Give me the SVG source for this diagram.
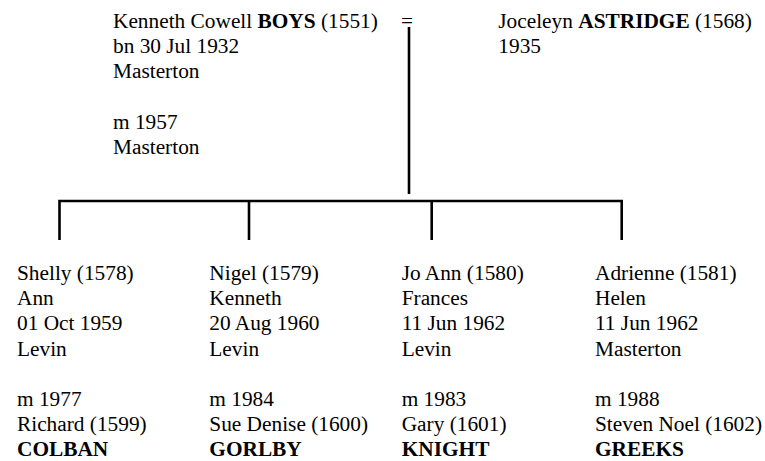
<svg xmlns="http://www.w3.org/2000/svg" width="765" height="461" viewBox="0 0 765 461">
<style>
text{font-family:"Liberation Serif","Times New Roman",serif;font-size:21.33px;fill:#000}
.b{font-weight:bold}
.ln{stroke:#000;stroke-width:2.6;fill:none}
</style>
<rect width="765" height="461" fill="#fff"/>
<g id="connectors">
<text x="401" y="28">=</text>
<line class="ln" x1="409" y1="27" x2="409" y2="194"/>
<polyline class="ln" points="59.5,240 59.5,201 621.7,201 621.7,240"/>
<line class="ln" x1="249" y1="201" x2="249" y2="240"/>
<line class="ln" x1="431.7" y1="201" x2="431.7" y2="240"/>
</g>
<g id="father">
<text x="113"><tspan x="113" y="28">Kenneth Cowell <tspan class="b">BOYS</tspan> (1551)</tspan><tspan x="113" y="53.2">bn 30 Jul 1932</tspan><tspan x="113" y="78.4">Masterton</tspan><tspan x="113" y="128.8">m 1957</tspan><tspan x="113" y="154">Masterton</tspan></text>
</g>
<g id="mother">
<text><tspan x="498.3" y="28">Joceleyn <tspan class="b">ASTRIDGE</tspan> (1568)</tspan><tspan x="498.3" y="53.2">1935</tspan></text>
</g>
<g id="shelly">
<text><tspan x="17" y="280">Shelly (1578)</tspan><tspan x="17" y="305.2">Ann</tspan><tspan x="17" y="330.4">01 Oct 1959</tspan><tspan x="17" y="355.6">Levin</tspan><tspan x="17" y="406">m 1977</tspan><tspan x="17" y="431.2">Richard (1599)</tspan><tspan x="17" y="456.4" class="b">COLBAN</tspan></text>
</g>
<g id="nigel">
<text><tspan x="209.3" y="280">Nigel (1579)</tspan><tspan x="209.3" y="305.2">Kenneth</tspan><tspan x="209.3" y="330.4">20 Aug 1960</tspan><tspan x="209.3" y="355.6">Levin</tspan><tspan x="209.3" y="406">m 1984</tspan><tspan x="209.3" y="431.2">Sue Denise (1600)</tspan><tspan x="209.3" y="456.4" class="b">GORLBY</tspan></text>
</g>
<g id="joann">
<text><tspan x="401.7" y="280">Jo Ann (1580)</tspan><tspan x="401.7" y="305.2">Frances</tspan><tspan x="401.7" y="330.4">11 Jun 1962</tspan><tspan x="401.7" y="355.6">Levin</tspan><tspan x="401.7" y="406">m 1983</tspan><tspan x="401.7" y="431.2">Gary (1601)</tspan><tspan x="401.7" y="456.4" class="b">KNIGHT</tspan></text>
</g>
<g id="adrienne">
<text><tspan x="595" y="280">Adrienne (1581)</tspan><tspan x="595" y="305.2">Helen</tspan><tspan x="595" y="330.4">11 Jun 1962</tspan><tspan x="595" y="355.6">Masterton</tspan><tspan x="595" y="406">m 1988</tspan><tspan x="595" y="431.2">Steven Noel (1602)</tspan><tspan x="595" y="456.4" class="b">GREEKS</tspan></text>
</g>
</svg>
